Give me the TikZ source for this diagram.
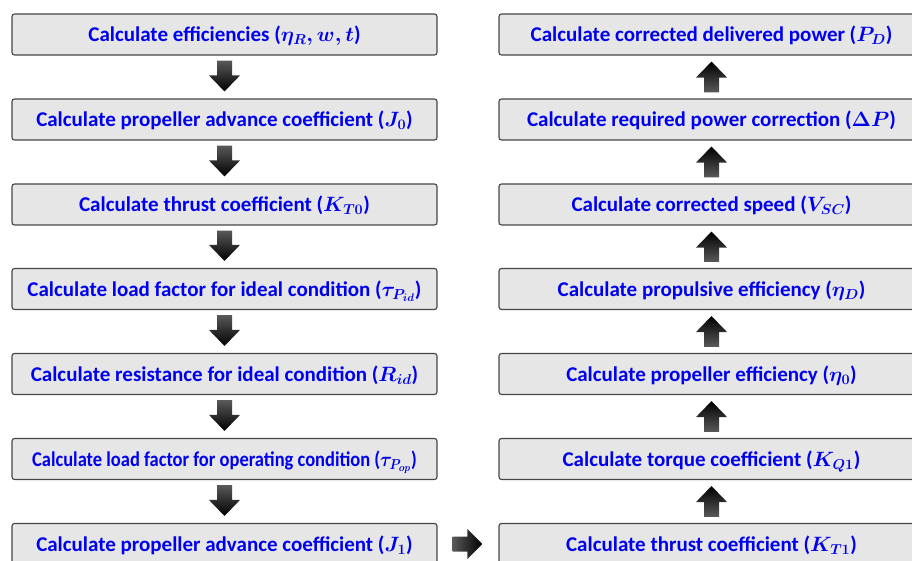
\documentclass[tikz,border=0pt]{standalone}
\usepackage{fontspec}
\usepackage{bm}
\setmainfont{Carlito}
\usetikzlibrary{calc}
\definecolor{txtblue}{RGB}{0,0,240}
\definecolor{boxfill}{RGB}{230,230,230}
\definecolor{boxline}{RGB}{70,70,70}
\tikzset{
  stepbox/.style={draw=boxline, fill=boxfill, line width=1.1pt, rounded corners=2.5pt,
    minimum width=425pt, minimum height=41pt, inner sep=0pt, text=txtblue,
    text height=17pt, text depth=3pt,
    font={\fontsize{21}{25}\selectfont\bfseries\boldmath}},
  arrowshade/.style={top color=black!65, bottom color=black, draw=none},
  arrowshadeup/.style={top color=black, bottom color=black!65, draw=none},
  arrowshadeh/.style={left color=black!65, right color=black, draw=none}
}
\newcommand{\downarr}[2]{%
  \shade[arrowshade] ($(#1.south)+(-7.5,5)$) -- ($(#1.south)+(7.5,5)$) --
    ($(#2.north)+(7.5,-23)$) -- ($(#2.north)+(15.5,-23)$) -- ($(#2.north)+(0,-7)$) --
    ($(#2.north)+(-15.5,-23)$) -- ($(#2.north)+(-7.5,-23)$) -- cycle;}
\newcommand{\uparr}[2]{%
  \shade[arrowshadeup] ($(#1.north)+(-7.5,-6)$) -- ($(#1.north)+(7.5,-6)$) --
    ($(#2.south)+(7.5,22)$) -- ($(#2.south)+(15.5,22)$) -- ($(#2.south)+(0,6)$) --
    ($(#2.south)+(-15.5,22)$) -- ($(#2.south)+(-7.5,22)$) -- cycle;}
\begin{document}
\begin{tikzpicture}[x=1pt,y=-1pt]
\useasboundingbox (0,0) rectangle (912,561);
\clip (0,0) rectangle (912,561);
% left column
\node[stepbox] (l1) at (224.5,34.5) {Calculate efficiencies ($\eta_R, w, t$)};
\node[stepbox] (l2) at (224.5,119.5) {Calculate propeller advance coefficient ($J_0$)};
\node[stepbox] (l3) at (224.5,204.5) {Calculate thrust coefficient ($K_{T0}$)};
\node[stepbox] (l4) at (224.5,289) {Calculate load factor for ideal condition ($\tau_{P_{id}}$)};
\node[stepbox] (l5) at (224.5,374) {Calculate resistance for ideal condition ($R_{id}$)};
\node[stepbox] (l6) at (224.5,459) {\scalebox{0.88}[1]{Calculate load factor for operating condition ($\tau_{P_{op}}$)}};
\node[stepbox] (l7) at (224.5,544) {Calculate propeller advance coefficient ($J_1$)};
% right column
\node[stepbox] (r1) at (711.5,34.5) {Calculate corrected delivered power ($P_D$)};
\node[stepbox] (r2) at (711.5,119.5) {Calculate required power correction ($\Delta P$)};
\node[stepbox] (r3) at (711.5,204.5) {Calculate corrected speed ($V_{SC}$)};
\node[stepbox] (r4) at (711.5,289) {Calculate propulsive efficiency ($\eta_D$)};
\node[stepbox] (r5) at (711.5,374) {Calculate propeller efficiency ($\eta_0$)};
\node[stepbox] (r6) at (711.5,459) {Calculate torque coefficient ($K_{Q1}$)};
\node[stepbox] (r7) at (711.5,544) {Calculate thrust coefficient ($K_{T1}$)};
% down arrows
\downarr{l1}{l2}
\downarr{l2}{l3}
\downarr{l3}{l4}
\downarr{l4}{l5}
\downarr{l5}{l6}
\downarr{l6}{l7}
% up arrows
\uparr{r7}{r6}
\uparr{r6}{r5}
\uparr{r5}{r4}
\uparr{r4}{r3}
\uparr{r3}{r2}
\uparr{r2}{r1}
% horizontal arrow
\shade[arrowshadeh] ($(l7.east)+(15,-7.5)$) -- ($(r7.west)+(-31,-7.5)$) --
  ($(r7.west)+(-31,-15)$) -- ($(r7.west)+(-16,0)$) -- ($(r7.west)+(-31,15)$) --
  ($(r7.west)+(-31,7.5)$) -- ($(l7.east)+(15,7.5)$) -- cycle;
\end{tikzpicture}
\end{document}
